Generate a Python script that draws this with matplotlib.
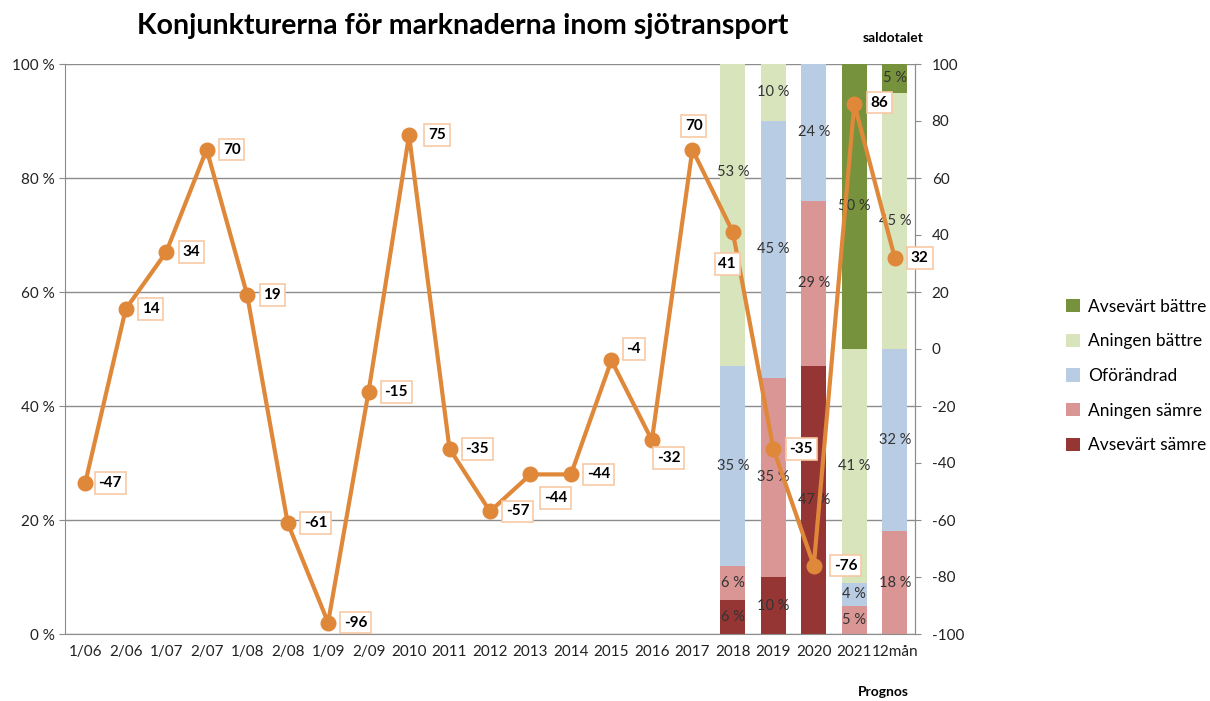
import matplotlib
matplotlib.use("Agg")
import matplotlib.pyplot as plt
import numpy as np

categories = ["1/06", "2/06", "1/07", "2/07", "1/08", "2/08", "1/09", "2/09", "2010", "2011",
              "2012", "2013", "2014", "2015", "2016", "2017", "2018", "2019", "2020", "2021", "12mån"]
saldo = [-47, 14, 34, 70, 19, -61, -96, -15, 75, -35, -57, -44, -44, -4, -32, 70, 41, -35, -76, 86, 32]

bar_categories = ["2018", "2019", "2020", "2021", "12mån"]
avsevart_samre = [6, 10, 47, 0, 0]
aningen_samre = [6, 35, 29, 5, 18]
oforandrad = [35, 45, 24, 4, 32]
aningen_battre = [53, 10, 0, 41, 45]
avsevart_battre = [0, 0, 0, 50, 5]

series_names = ["Avsevärt sämre", "Aningen sämre", "Oförändrad", "Aningen bättre", "Avsevärt bättre"]
series_vals = [avsevart_samre, aningen_samre, oforandrad, aningen_battre, avsevart_battre]
colors = ["#963634", "#DA9694", "#B8CCE4", "#D8E4BC", "#76923C"]

left_ticks = ["0 %", "20 %", "40 %", "60 %", "80 %", "100 %"]

# label offsets (points) per point
offsets = [(18, 0), (18, 0), (18, 0), (18, 0), (18, 0), (20, 0), (20, 0), (20, 0), (20, 0), (20, 0),
           (20, 0), (18, -17), (20, 0), (16, 8), (12, -13), (1, 17), (-4, -23), (20, 0), (23, 0), (18, 1), (18, 0)]
# manual vertical shift (in %) of bar segment labels: (bar index, series index) -> shift
label_shift = {(0, 3): 7.5}

plt.rcParams['font.family'] = ['Lato', 'DejaVu Sans']
fig = plt.figure(figsize=(12.10, 7.01), dpi=100)
ax = fig.add_axes([65/1210, 67/701, 850/1210, 570/701])
x = np.arange(len(categories))
bx = [categories.index(c) for c in bar_categories]

bottom = np.zeros(len(bar_categories))
handles = []
for si, (name, vals, col) in enumerate(zip(series_names, series_vals, colors)):
    vals = np.array(vals, dtype=float)
    h = ax.bar(bx, vals, 0.62, bottom=bottom, color=col, label=name, zorder=2)
    handles.append(h)
    for bi, (xi, b, v) in enumerate(zip(bx, bottom, vals)):
        if v > 0:
            ax.text(xi, b + v/2 + label_shift.get((bi, si), 0), f"{int(v)} %", ha='center', va='center',
                    fontsize=10.5, color='#333333', zorder=3)
    bottom += vals

ax.set_xlim(-0.5, len(categories) - 0.5)
ax.set_ylim(0, 100)
ax.set_yticks([0, 20, 40, 60, 80, 100])
ax.set_yticklabels(left_ticks, fontsize=11)
ax.set_xticks(x)
ax.set_xticklabels(categories, fontsize=11)
ax.yaxis.grid(True, color='#8c8c8c', linewidth=1.0, zorder=0)
ax.set_axisbelow(True)
ax.spines['top'].set_visible(False)
for s in ['left', 'bottom', 'right']:
    ax.spines[s].set_color('#8c8c8c')
ax.tick_params(axis='x', length=0, pad=8, colors='#222222')
ax.tick_params(axis='y', length=4, color='#8c8c8c', colors='#222222')

ax2 = ax.twinx()
ax2.set_ylim(-100, 100)
ax2.set_yticks(np.arange(-100, 101, 20))
ax2.set_yticklabels([str(v) for v in range(-100, 101, 20)], fontsize=11)
ax2.tick_params(axis='y', length=4, color='#8c8c8c', colors='#222222', pad=8)
for s in ['top', 'left', 'bottom']:
    ax2.spines[s].set_visible(False)
ax2.spines['right'].set_color('#8c8c8c')
ax2.plot(x, saldo, color='#E0883A', linewidth=3, marker='o', markersize=10.5, zorder=4)
for xi, v, off in zip(x, saldo, offsets):
    ax2.annotate(str(v), (xi, v), xytext=off, textcoords='offset points', ha='center', va='center',
                 fontsize=11, fontweight='bold', color='black', zorder=5,
                 bbox=dict(boxstyle='square,pad=0.25', fc='white', ec='#F7C9A3', lw=1.2))

fig.text(463/1210, 1 - 26/701, "Konjunkturerna för marknaderna inom sjötransport", ha='center', va='center',
         fontsize=20.5, fontweight='bold')
fig.text(893/1210, 1 - 38/701, "saldotalet", ha='center', va='center', fontsize=10, fontweight='bold')
fig.text(883/1210, 1 - 692/701, "Prognos", ha='center', va='center', fontsize=10, fontweight='bold')

leg = fig.legend(handles[::-1], series_names[::-1], loc='center left', bbox_to_anchor=(1050/1210, 1 - 376/701),
                 frameon=False, fontsize=12.5, handlelength=0.8, handleheight=0.8, labelspacing=1.08,
                 handletextpad=0.5)

fig.savefig("out.png", dpi=100)
